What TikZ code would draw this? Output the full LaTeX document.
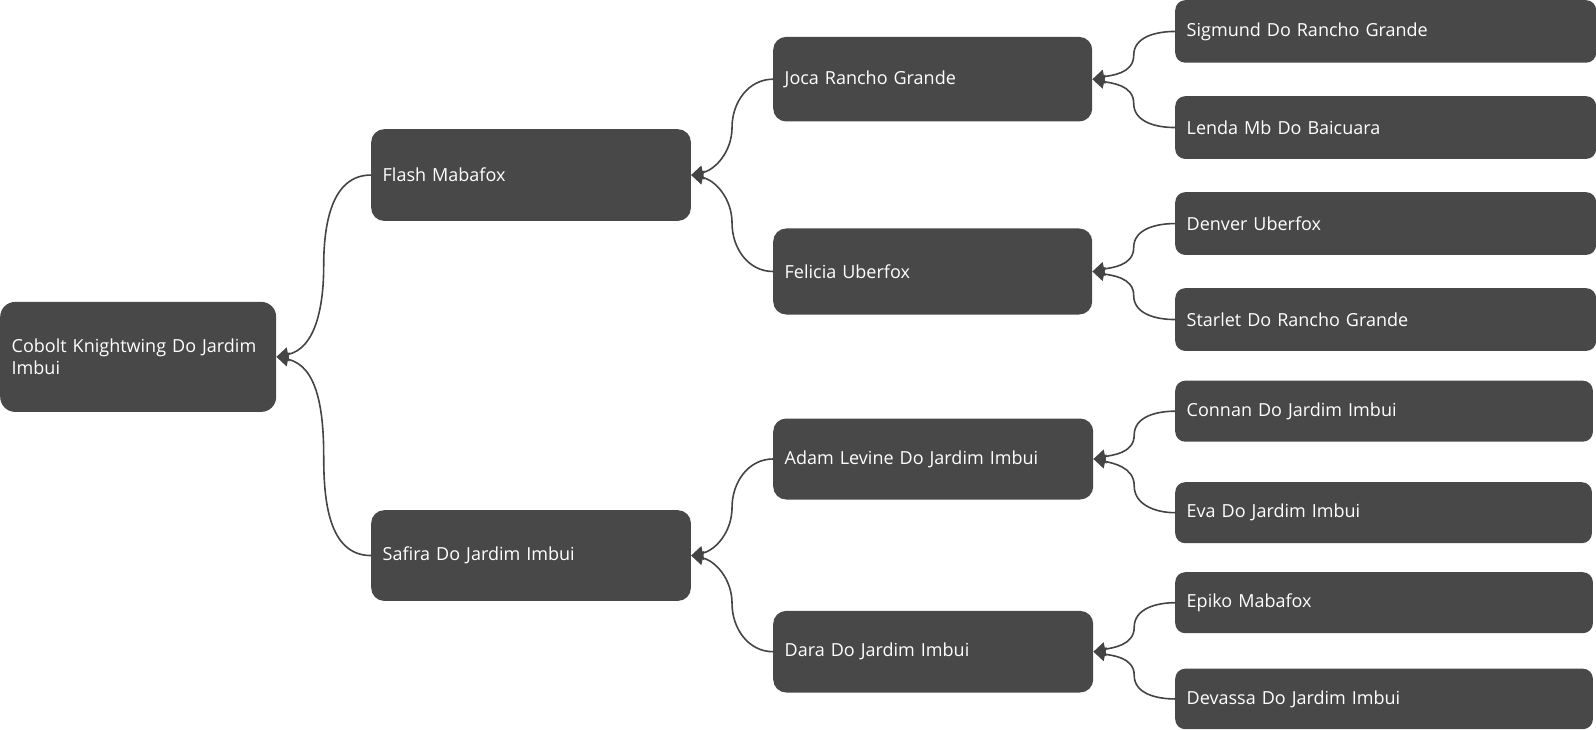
\documentclass[tikz,border=0pt]{standalone}
\usepackage{fontspec}
\setmainfont{Open Sans}
\usetikzlibrary{arrows.meta,calc}
\definecolor{boxfill}{RGB}{72,72,72}
\definecolor{linkcol}{RGB}{68,68,68}
\tikzset{
  person/.style={draw=none, fill=boxfill, text=white, rounded corners=#1,
    anchor=north west, inner xsep=11.5pt, inner ysep=0pt, align=left,
    font=\fontsize{18}{22}\selectfont},
  person/.default=13pt,
  link/.style={draw=linkcol, line width=1.6pt,
    -{Triangle[length=12pt,width=14pt]}}
}
\newcommand{\pbox}[7][13pt]{% radius, name, left, top, right, bottom, text
  \node[person=#1, minimum width={#5-#3}, minimum height={#6-#4},
        text width={#5-#3-23pt}] (#2) at (#3,-#4) {\raisebox{-1.5pt}{\parbox{\linewidth}{\raggedright #7}}};}
\begin{document}
\begin{tikzpicture}[x=1pt,y=1pt]
\useasboundingbox (0,0) rectangle (1596,-730);
% root
\pbox[15pt]{root}{0pt}{301.7pt}{276pt}{411.7pt}{Cobolt Knightwing Do Jardim Imbui}
% level 1
\pbox{flash}{371pt}{129pt}{690.7pt}{220.7pt}{Flash Mabafox}
\pbox{safira}{371pt}{510pt}{690.7pt}{600.7pt}{Safira Do Jardim Imbui}
% level 2
\pbox{joca}{773pt}{36.7pt}{1092pt}{121.3pt}{Joca Rancho Grande}
\pbox{felicia}{773pt}{228.3pt}{1092pt}{314.3pt}{Felicia Uberfox}
\pbox{adam}{773pt}{418.3pt}{1093pt}{499.3pt}{Adam Levine Do Jardim Imbui}
\pbox{dara}{773pt}{610.7pt}{1093pt}{692.3pt}{Dara Do Jardim Imbui}
% level 3
\pbox[10pt]{sigmund}{1175pt}{0pt}{1596pt}{62.5pt}{Sigmund Do Rancho Grande}
\pbox[10pt]{lenda}{1175pt}{96pt}{1596pt}{158.7pt}{Lenda Mb Do Baicuara}
\pbox[10pt]{denver}{1175pt}{192pt}{1596pt}{254.7pt}{Denver Uberfox}
\pbox[10pt]{starlet}{1175pt}{288pt}{1596pt}{350.7pt}{Starlet Do Rancho Grande}
\pbox[10pt]{connan}{1175pt}{380.5pt}{1592.7pt}{441.5pt}{Connan Do Jardim Imbui}
\pbox[10pt]{eva}{1175pt}{482pt}{1591.7pt}{543pt}{Eva Do Jardim Imbui}
\pbox[10pt]{epiko}{1175pt}{572pt}{1592.7pt}{633pt}{Epiko Mabafox}
\pbox[10pt]{devassa}{1175pt}{668.5pt}{1592.7pt}{729pt}{Devassa Do Jardim Imbui}
% connectors: upper child -> parent, lower child -> parent
\foreach \c/\p in {flash/root, joca/flash, adam/safira, sigmund/joca, denver/felicia, connan/adam, epiko/dara}{
  \draw[link] (\c.west) to[out=180,in=90] ($(\c.west)!0.5!(\p.east)$) to[out=-90,in=12] (\p.east);
}
\foreach \c/\p in {safira/root, felicia/flash, dara/safira, lenda/joca, starlet/felicia, eva/adam, devassa/dara}{
  \draw[link] (\c.west) to[out=180,in=-90] ($(\c.west)!0.5!(\p.east)$) to[out=90,in=-12] (\p.east);
}
\end{tikzpicture}
\end{document}
